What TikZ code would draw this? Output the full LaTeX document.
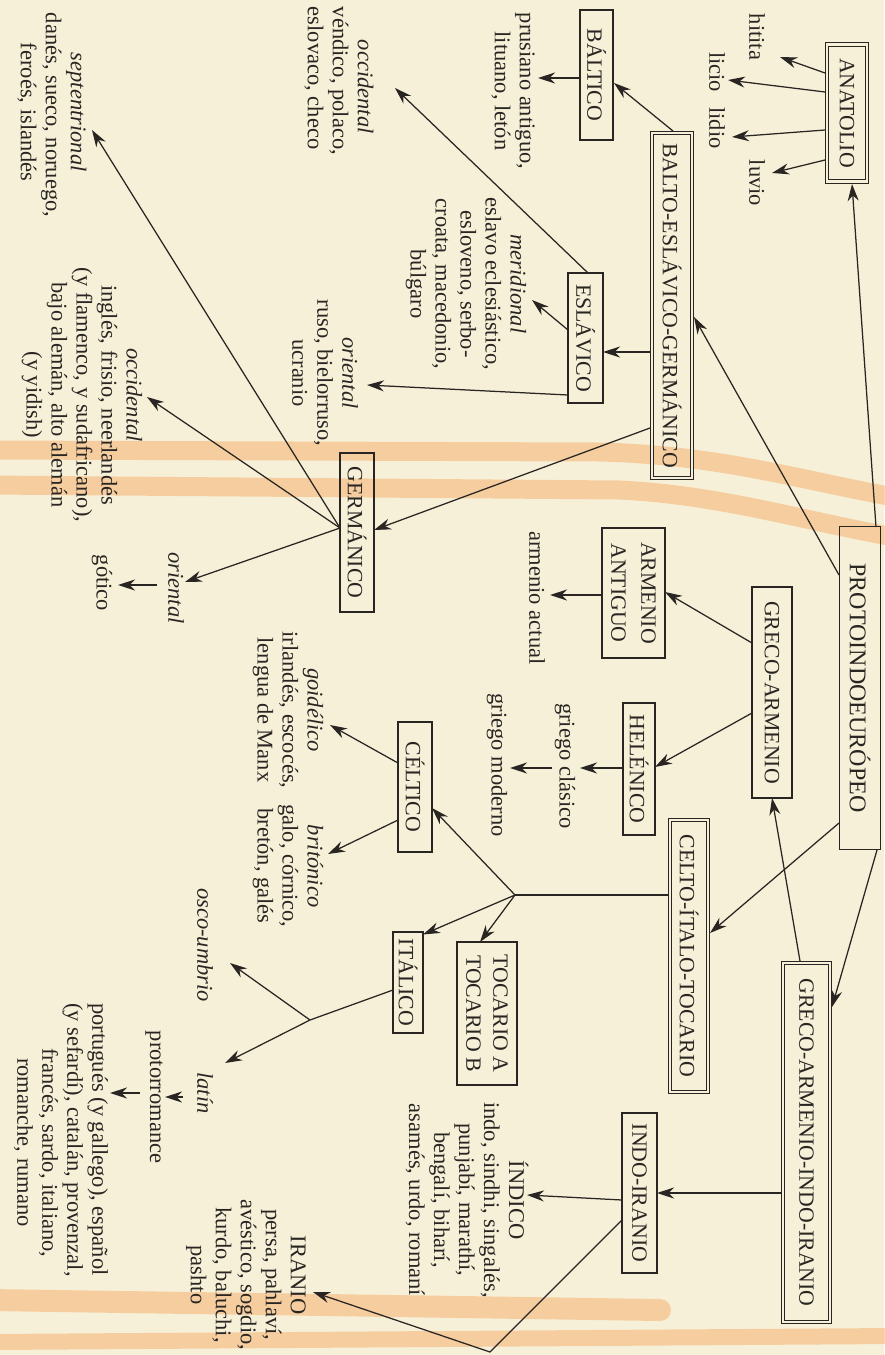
\documentclass[tikz,border=0pt]{standalone}
\usepackage{fontspec}
\setmainfont{Liberation Serif}
\usetikzlibrary{arrows.meta,calc}
\definecolor{paper}{RGB}{247,240,216}
\definecolor{ink}{RGB}{40,37,34}
\definecolor{hlcol}{RGB}{244,178,112}
\newcommand{\capfont}{\fontsize{21.8}{27}\selectfont}
\newcommand{\protofont}{\fontsize{24}{26}\selectfont}
\newcommand{\lblfont}{\fontsize{22.5}{25}\selectfont}
\tikzset{
  box/.style={draw=ink, line width=1.3pt, rotate=-90, inner sep=0pt, align=center, font=\capfont, text=ink},
  dbox/.style={box, line width=1pt, double=paper, double distance=2.3pt},
  lbl/.style={rotate=-90, inner sep=0pt, align=center, font=\lblfont, text=ink},
  lbll/.style={lbl, align=left},
  arr/.style={draw=ink, line width=1.25pt, -{Stealth[length=17pt,width=11pt,inset=5.5pt]}},
  ln/.style={draw=ink, line width=1.25pt},
  hlband/.style={draw=hlcol, opacity=0.55, line cap=round, line width=19pt},
}
\begin{document}
\begin{tikzpicture}[x=1pt,y=-1pt]
\useasboundingbox (0,0) rectangle (884,1355);
\fill[paper] (0,0) rectangle (884,1355);
% highlighter marks of the scan
\draw[hlband] (-10,450) -- (600,452) .. controls (720,455) and (800,480) .. (894,497);
\draw[hlband] (-10,485) -- (620,490) .. controls (720,495) and (800,520) .. (894,537);
\draw[hlband, line width=22pt] (-10,1300) -- (660,1310);
\draw[hlband, line width=16pt] (-10,1342) -- (894,1336);

% boxes
\node[box, font=\protofont, minimum width=323, minimum height=41] (proto) at (860,688) {PROTOINDOEURÓPEO};
\node[dbox, minimum width=137, minimum height=40] (anat) at (847,113) {ANATOLIO};
\node[dbox, minimum width=345, minimum height=40] (beg) at (672,305.5) {BALTO-ESLÁVICO-GERMÁNICO};
\node[box, minimum width=130, minimum height=33] (baltico) at (596.5,75) {BÁLTICO};
\node[box, minimum width=130, minimum height=35] (esl) at (585.5,338) {ESLÁVICO};
\node[box, minimum width=159, minimum height=34] (germ) at (357,532.5) {GERMÁNICO};
\node[box, minimum width=211, minimum height=40] (grar) at (772,692.5) {GRECO-ARMENIO};
\node[box, font=\fontsize{21.8}{30}\selectfont, minimum width=130, minimum height=63] (armant) at (633.5,593) {ARMENIO\\ANTIGUO};
\node[box, minimum width=132, minimum height=32] (helen) at (639,769) {HELÉNICO};
\node[dbox, minimum width=272, minimum height=38] (cit) at (689,956) {CELTO-ÍTALO-TOCARIO};
\node[dbox, minimum width=359, minimum height=47] (gaii) at (806.5,1142.5) {GRECO-ARMENIO-INDO-IRANIO};
\node[box, minimum width=160, minimum height=35] (indir) at (639.5,1193) {INDO-IRANIO};
\node[box, minimum width=130, minimum height=34] (celt) at (415,787) {CÉLTICO};
\node[box, minimum width=143, minimum height=60] (toc) at (487,1013.5) {TOCARIO A\\TOCARIO B};
\node[box, minimum width=101, minimum height=30] (ital) at (408,982.5) {ITÁLICO};

% labels
\node[lbl] (hitita) at (757,37) {hitita};
\node[lbl] (licio) at (717,72) {licio};
\node[lbl] (lidio) at (717,128) {lidio};
\node[lbl] (luvio) at (757,183) {luvio};
\node[lbl] (prus) at (513,91) {prusiano antiguo,\\lituano, letón};
\node[lbll] (eslocc) at (339,81) {\hspace*{33pt}\textit{occidental}\\véndico, polaco,\\eslovaco, checo};
\node[lbl] (eslmer) at (466,284) {\textit{meridional}\\eslavo eclesiástico,\\esloveno, serbo-\\croata, macedonio,\\búlgaro};
\node[lbl] (eslori) at (325,373) {\textit{oriental}\\ruso, bielorruso,\\ucranio};
\node[lbll] (sept) at (52,115) {\hspace*{40pt}\textit{septentrional}\\danés, sueco, noruego,\\\hspace*{30pt}feroés, islandés};
\node[lbl] (gerocc) at (82,395) {\textit{occidental}\\inglés, frisio, neerlandés\\(y flamenco, y sudafricano),\\bajo alemán, alto alemán\\(y yidish)};
\node[lbl] (gerori) at (176,588) {\textit{oriental}};
\node[lbl] (gotico) at (102,583) {gótico};
\node[lbl] (armact) at (537,598) {armenio actual};
\node[lbl] (grcla) at (565,766) {griego clásico};
\node[lbl] (grmod) at (497,765) {griego moderno};
\node[lbl] (goid) at (288,710) {\textit{goidélico}\\irlandés, escocés,\\lengua de Manx};
\node[lbl] (brit) at (288,866) {\textit{britónico}\\galo, córnico,\\bretón, galés};
\node[lbl] (osco) at (205,945) {\textit{osco-umbrio}};
\node[lbl] (latin) at (205,1093) {\textit{latín}};
\node[lbl] (protor) at (154,1097) {protorromance};
\node[lbll] (port) at (61,1140) {portugués (y gallego), español\\(y sefardí), catalán, provenzal,\\\hspace*{45pt}francés, sardo, italiano,\\\hspace*{55pt}romanche, rumano};
\node[lbl] (indico) at (467,1200) {ÍNDICO\\indo, sindhi, singalés,\\punjabí, marathí,\\bengalí, biharí,\\asamés, urdo, romaní};
\node[lbl] (iranio) at (246,1275) {IRANIO\\persa, pahlaví,\\avéstico, sogdio,\\kurdo, baluchi,\\pashto};

% branch points
\coordinate (br1) at (515,895);
\coordinate (br2) at (310,1020);
\coordinate (vir) at (490,1352);

% connectors
\draw[arr] ($(proto)+(16,-161)$) -- ($(anat)+(5,71)$);
\draw[arr] ($(proto)+(-21,-113)$) -- ($(beg)+(22,11.5)$);
\draw[arr] ($(proto)+(-21,135)$) -- ($(cit)+(21,-23)$);
\draw[arr] ($(proto)+(17,162)$) -- ($(gaii)+(25.5,-135.5)$);

\draw[arr] ($(anat)+(-22,-40)$) -- ($(hitita)+(23,20)$);
\draw[arr] ($(anat)+(-22,-21)$) -- ($(licio)+(11,8)$);
\draw[arr] ($(anat)+(-22,17)$) -- ($(lidio)+(15,9)$);
\draw[arr] ($(anat)+(-22,47)$) -- ($(luvio)+(15,-10)$);

\draw[arr] ($(beg)+(1,-174.5)$) -- ($(baltico)+(17.5,8)$);
\draw[arr] ($(beg)+(-22,46.5)$) -- ($(esl)+(17.5,14)$);
\draw[arr] ($(beg)+(-22,122.5)$) -- ($(germ)+(17,-2.5)$);
\draw[arr] ($(baltico)+(-16.5,3)$) -- ($(prus)+(25,-13)$);

\draw[arr] ($(esl)+(2.5,-65)$) -- ($(eslocc)+(56,7)$);
\draw[arr] ($(esl)+(-17.5,-8)$) -- ($(eslmer)+(66,16)$);
\draw[arr] ($(esl)+(-17.5,57)$) -- ($(eslori)+(42,12)$);

\draw[arr] ($(germ)+(-17,-4.5)$) -- ($(sept)+(40,15)$);
\draw[arr] ($(germ)+(-17,-4.5)$) -- ($(gerocc)+(65,2)$);
\draw[arr] ($(germ)+(-17,-4.5)$) -- ($(gerori)+(9,-6)$);
\draw[arr] ($(gerori)+(-19,-3)$) -- ($(gotico)+(16,2)$);

\draw[arr] ($(gaii)+(-6.5,-181.5)$) -- ($(grar)+(0,105.5)$);
\draw[arr] ($(gaii)+(-25.5,50.5)$) -- ($(indir)+(17.5,0)$);
\draw[arr] ($(grar)+(-20,-49.5)$) -- ($(armant)+(31.5,-1)$);
\draw[arr] ($(grar)+(-20,20.5)$) -- ($(helen)+(16,-2)$);
\draw[arr] ($(armant)+(-31.5,2)$) -- ($(armact)+(13,-3)$);
\draw[arr] ($(helen)+(-16,-1)$) -- ($(grcla)+(15,2)$);
\draw[arr] ($(grcla)+(-13,2)$) -- ($(grmod)+(13,3)$);

\draw[ln] ($(cit)+(-21,-61)$) -- (br1);
\draw[arr] (br1) -- ($(celt)+(17,21)$);
\draw[arr] (br1) -- ($(toc)+(-7,-71.5)$);
\draw[arr] (br1) -- ($(ital)+(15,-48)$);
\draw[arr] ($(celt)+(-17,-24)$) -- ($(goid)+(42,15)$);
\draw[arr] ($(celt)+(-17,33)$) -- ($(brit)+(40,-12)$);

\draw[ln] ($(ital)+(-15,7.5)$) -- (br2);
\draw[arr] (br2) -- ($(osco)+(25,18)$);
\draw[arr] (br2) -- ($(latin)+(20,-30)$);
\draw[arr] ($(latin)+(-22,4)$) -- ($(protor)+(11,0)$);
\draw[arr] ($(protor)+(-14,-4)$) -- ($(port)+(49,-47)$);

\draw[arr] ($(indir)+(-17.5,7)$) -- ($(indico)+(60,-5)$);
\draw[arr] ($(indir)+(-17.5,27)$) -- (vir) -- ($(iranio)+(67,17)$);
\end{tikzpicture}
\end{document}
